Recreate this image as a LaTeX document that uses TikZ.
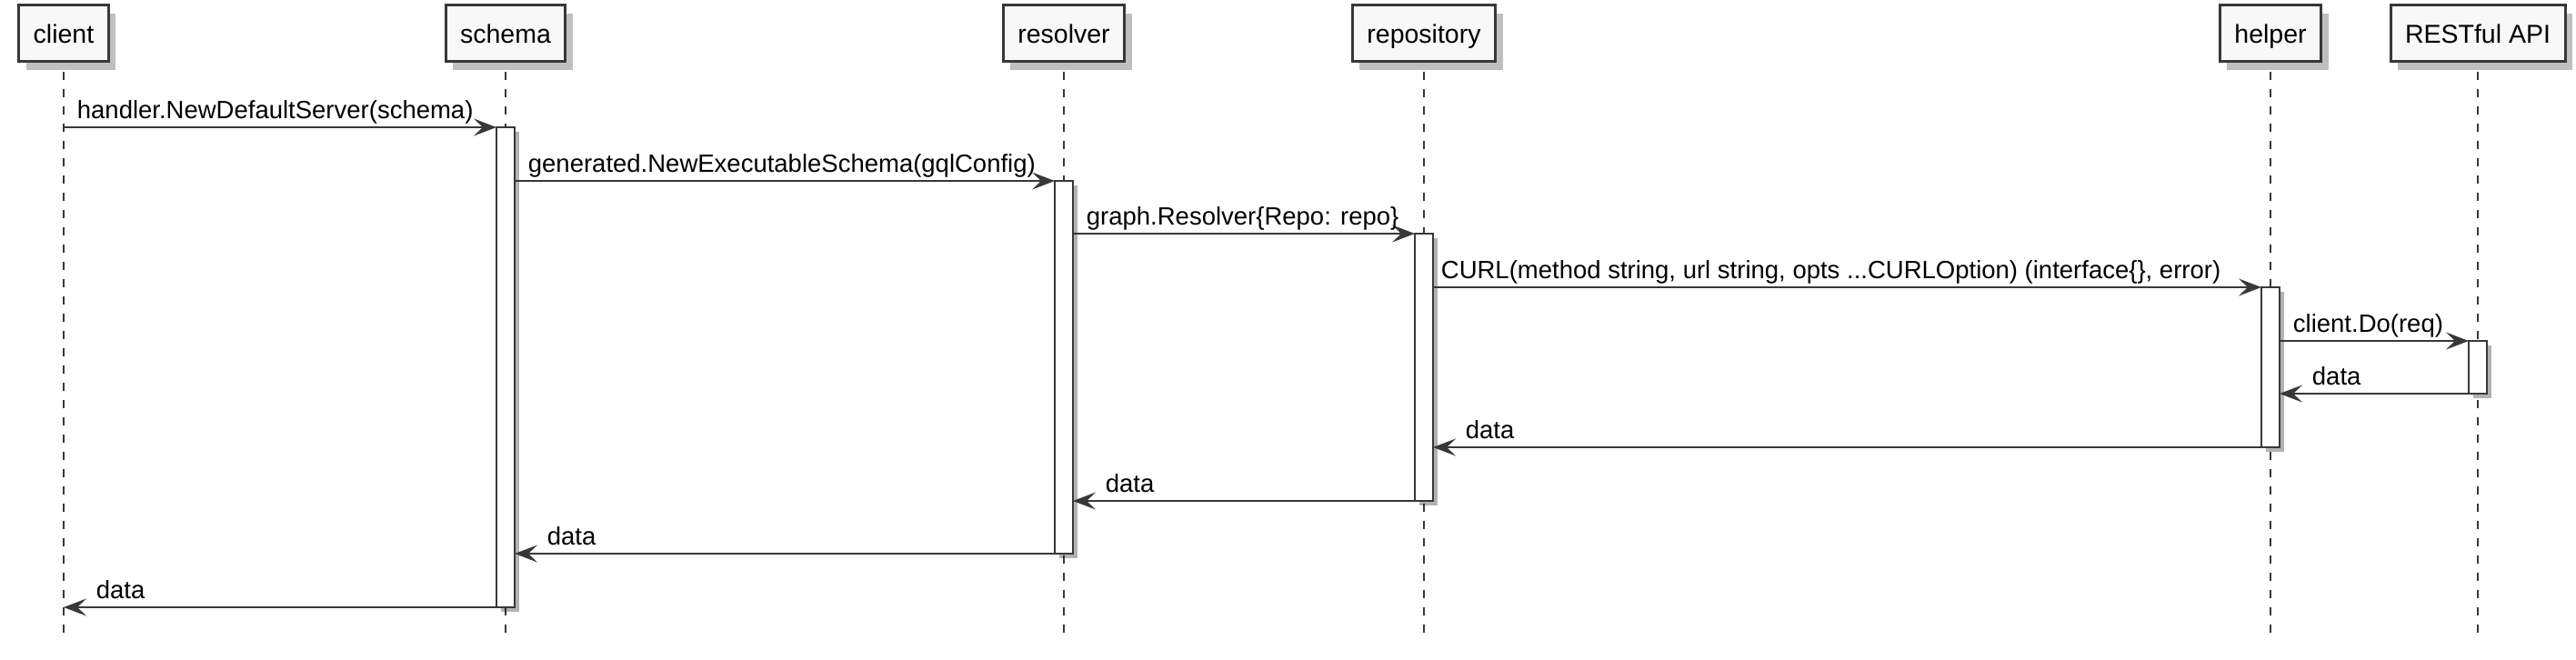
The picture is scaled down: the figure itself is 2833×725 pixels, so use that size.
\documentclass[tikz,border=0pt]{standalone}
\usepackage{fontspec}
\setmainfont{Liberation Sans}
\usetikzlibrary{arrows.meta,shadows}
\definecolor{umlline}{HTML}{383838}
\definecolor{umlfill}{HTML}{F8F8F8}
\tikzset{
  participant/.style={draw=umlline, line width=1.5pt, fill=umlfill,
    minimum height=31pt, inner xsep=8pt, text height=13pt, text depth=2pt,
    font=\fontsize{14.25}{17}\selectfont,
    drop shadow={shadow xshift=4pt, shadow yshift=-5pt, fill=black, opacity=.25}},
  lifeline/.style={draw=umlline, line width=.75pt, dash pattern=on 4.5pt off 5pt},
  activation/.style={draw=umlline, line width=1pt, fill=white, minimum width=10pt,
    inner sep=0pt, outer sep=0pt,
    drop shadow={shadow xshift=2.5pt, shadow yshift=-2.5pt, fill=black, opacity=.3}},
  message/.style={draw=umlline, line width=.9pt,
    -{Stealth[length=12.5pt, width=9.5pt, inset=5pt]}},
  call/.style={pos=0, anchor=base west, inner sep=0pt, xshift=7pt, yshift=5pt,
    font=\fontsize{13.75}{16}\selectfont},
  reply/.style={pos=1, anchor=base west, inner sep=0pt, xshift=17.5pt, yshift=5pt,
    font=\fontsize{13.75}{16}\selectfont}
}
\begin{document}
\begin{tikzpicture}[x=0.5pt,y=-0.5pt]
  \useasboundingbox (0,0) rectangle (2833,725);
  \coordinate (mid) at (0,404);
  \coordinate (end) at (0,703);
  \draw
    (70,36) node[participant] (client){client}
    (556,36) node[participant] (schema){schema}
    (1170,36) node[participant] (resolver){resolver}
    (1566,36) node[participant] (repository){repository}
    (2497,36) node[participant] (helper){helper}
    (2725,36) node[participant] (api){RESTful API};
  \begin{scope}[lifeline]
    \draw (client.south) ++(0,10) -- (client |- end);
    \draw (schema.south) ++(0,10) -- (schema |- end);
    \draw (resolver.south) ++(0,10) -- (resolver |- end);
    \draw (repository.south) ++(0,10) -- (repository |- end);
    \draw (helper.south) ++(0,10) -- (helper |- end);
    \draw (api.south) ++(0,10) -- (api |- end);
  \end{scope}
  \node[activation, minimum height=264pt] (schema-act) at (schema |- mid) {};
  \node[activation, minimum height=205pt] (resolver-act) at (resolver |- mid) {};
  \node[activation, minimum height=147pt] (repository-act) at (repository |- mid) {};
  \node[activation, minimum height=88pt] (helper-act) at (helper |- mid) {};
  \node[activation, minimum height=29pt] (api-act) at (api |- mid) {};
  \begin{scope}[message]
    \draw (client |- schema-act.north) -- (schema-act.north west)
      node[call] (m1){handler.NewDefaultServer(schema)};
    \draw (schema-act.east |- resolver-act.north) -- (resolver-act.north west)
      node[call] (m2){generated.NewExecutableSchema(gqlConfig)};
    \draw (resolver-act.east |- repository-act.north) -- (repository-act.north west)
      node[call] (m3){graph.Resolver\{Repo: repo\}};
    \draw (repository-act.east |- helper-act.north) -- (helper-act.north west)
      node[call, xshift=-3pt] (m4){CURL(method string, url string, opts ...CURLOption) (interface\{\}, error)};
    \draw (helper-act.east |- api-act.north) -- (api-act.north west)
      node[call] (m5){client.Do(req)};
    \draw (api-act.south west) -- (helper-act.east |- api-act.south)
      node[reply] (m6){data};
    \draw (helper-act.south west) -- (repository-act.east |- helper-act.south)
      node[reply] (m7){data};
    \draw (repository-act.south west) -- (resolver-act.east |- repository-act.south)
      node[reply] (m8){data};
    \draw (resolver-act.south west) -- (schema-act.east |- resolver-act.south)
      node[reply] (m9){data};
    \draw (schema-act.south west) -- (client |- schema-act.south)
      node[reply] (m10){data};
  \end{scope}
\end{tikzpicture}
\end{document}
